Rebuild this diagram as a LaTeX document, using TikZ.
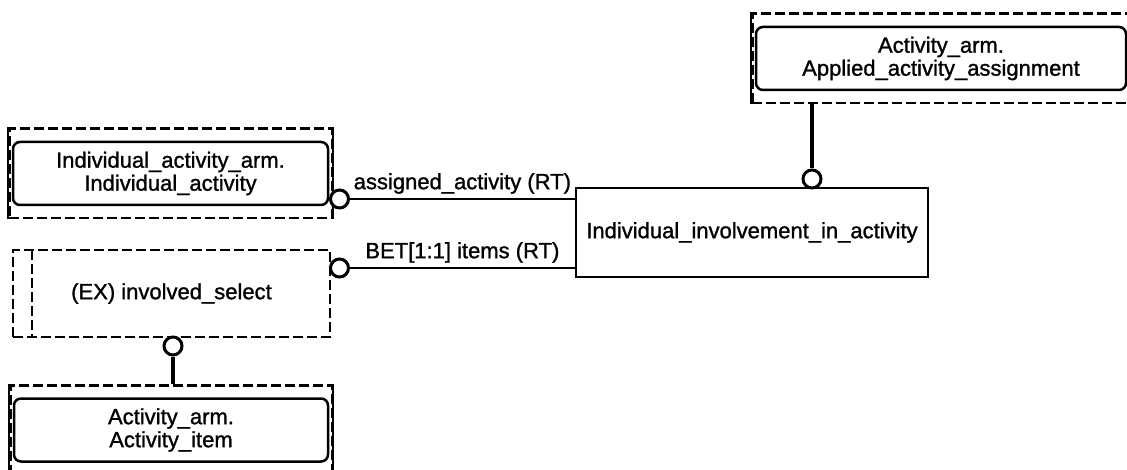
\documentclass[tikz,border=0pt]{standalone}
\usepackage{fontspec}
\setmainfont{Liberation Sans}[BoldFont=Liberation Sans, BoldFeatures={FakeBold=1.2}]
\usetikzlibrary{positioning,fit}

\begin{document}
\begin{tikzpicture}[x=1pt, y=-1pt,
  font=\fontsize{22}{23}\selectfont\bfseries,
  entity/.style={draw, line width=2.5pt, rounded corners=7pt, align=center,
                 inner sep=0pt},
  plainbox/.style={draw, line width=2.5pt, align=center, inner sep=0pt},
  refbox/.style={draw, line width=2.5pt, dash pattern=on 10pt off 4pt,
                 inner xsep=2.5pt, inner ysep=12pt},
  selbox/.style={draw, line width=2.5pt, dash pattern=on 10pt off 4pt,
                 align=center, inner sep=0pt},
  side/.style={line width=2.5pt},
  ring/.style={circle, draw, line width=3pt, minimum size=18pt,
               inner sep=0pt, fill=white},
  link/.style={line width=2.5pt},
  heavy/.style={line width=3.5pt}
]
  \clip (0,0) rectangle (1127,470);

  % Entities
  \node[entity, minimum width=370pt, minimum height=63pt] (aaa) at (941,58.5)
    {Activity\_arm.\\Applied\_activity\_assignment};
  \node[entity, minimum width=315pt, minimum height=63pt] (ia) at (170.5,173.5)
    {Individual\_activity\_arm.\\Individual\_activity};
  \node[entity, minimum width=314pt, minimum height=63pt] (ai) at (171,430)
    {Activity\_arm.\\Activity\_item};
  \node[plainbox, minimum width=352pt, minimum height=89pt] (iia) at (752,232.5)
    {Individual\_involvement\_in\_activity};

  % Page reference frames
  \node[refbox, fit=(aaa)] (aaaref) {};
  \node[refbox, fit=(ia)] (iaref) {};
  \node[refbox, fit=(ai)] (airef) {};
  \foreach \n in {aaaref,iaref,airef}
    \draw[side] (\n.north west) -- (\n.south west)
                (\n.north east) -- (\n.south east);

  % Select type
  \node[selbox, minimum width=317pt, minimum height=87pt] (sel) at (171.5,293.5)
    {(EX) involved\_select};
  \draw[selbox] (32,250) -- (32,337);

  % Rings
  \node[ring] (raaa) at (812,179) {};
  \node[ring] (ria) at (339.5,199) {};
  \node[ring] (rsel) at (339.5,268) {};
  \node[ring] (rai) at (173,346) {};

  % Relationships
  \draw[heavy] (raaa) -- (raaa |- aaaref.south);
  \draw[link] (ria) -- (ria -| iia.west)
    node[midway, above, inner sep=4pt] {assigned\_activity (RT)};
  \draw[link] (rsel) -- (rsel -| iia.west)
    node[midway, above, inner sep=4pt] {BET[1:1] items (RT)};
  \draw[heavy] (rai) -- (rai |- airef.north);
\end{tikzpicture}
\end{document}
